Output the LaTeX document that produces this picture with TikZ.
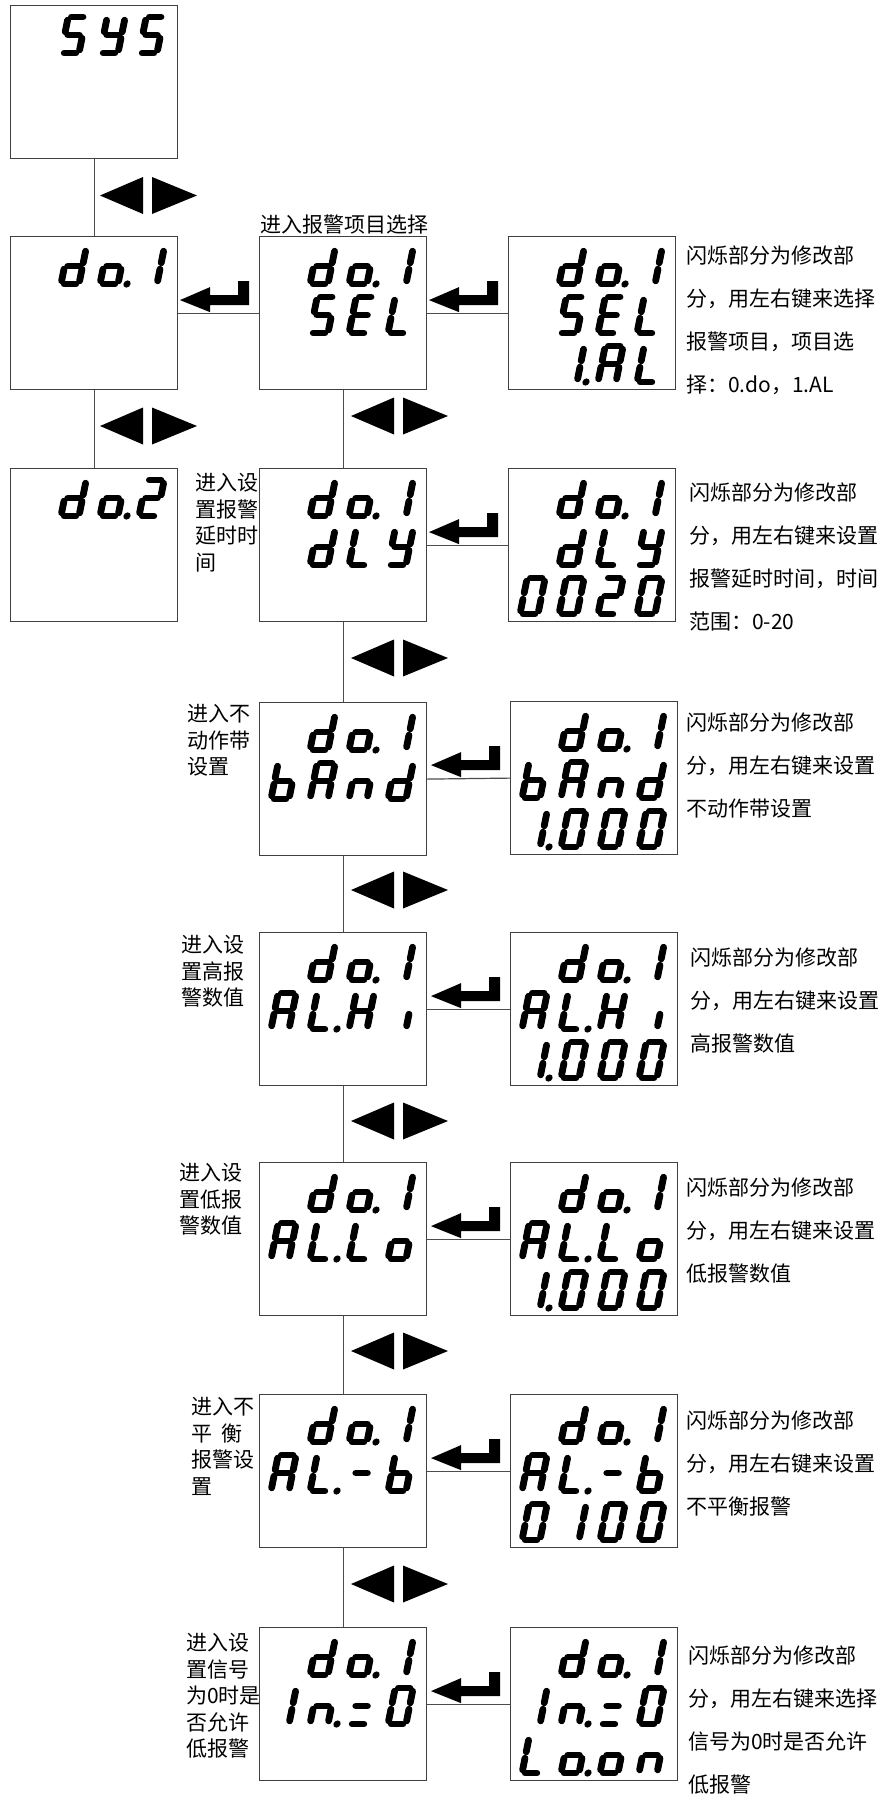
\documentclass[tikz,border=0pt]{standalone}
\usepackage{fontspec}
\setmainfont{Noto Sans CJK SC}
\usetikzlibrary{calc}
\tikzset{
  box/.style={draw=black!75, line width=1.2pt, minimum width=167pt, minimum height=153pt, inner sep=0pt, anchor=north west, fill=white},
  conn/.style={draw=black!70, line width=1.2pt},
  seg/.style={line width=6.8pt, line cap=round},
  lbl/.style={anchor=north west, inner sep=0pt, align=left, font=\fontsize{21}{26.5}\selectfont},
  desc/.style={anchor=north west, inner sep=0pt, align=left, font=\fontsize{21}{43}\selectfont},
}
% seven segment pieces (local frame: baseline y=0, top y=-36, width 18)
\newcommand\SegA{\draw[seg] (3.2,-36) -- (14.8,-36);}
\newcommand\SegB{\draw[seg] (18,-32.8) -- (18,-21.2);}
\newcommand\SegC{\draw[seg] (18,-14.8) -- (18,-3.2);}
\newcommand\SegD{\draw[seg] (3.2,0) -- (14.8,0);}
\newcommand\SegE{\draw[seg] (0,-14.8) -- (0,-3.2);}
\newcommand\SegF{\draw[seg] (0,-32.8) -- (0,-21.2);}
\newcommand\SegG{\draw[seg] (3.2,-18) -- (14.8,-18);}
\newcommand\glDP{\fill (27,0) circle (3.6pt);}
\newcommand\glZero{\SegA\SegB\SegC\SegD\SegE\SegF}
\newcommand\glOne{\SegB\SegC}
\newcommand\glTwo{\SegA\SegB\SegG\SegE\SegD}
\newcommand\glA{\SegA\SegB\SegC\SegE\SegF\SegG}
\newcommand\glB{\SegF\SegE\SegG\SegC\SegD}
\newcommand\glD{\SegB\SegC\SegG\SegE\SegD}
\newcommand\glE{\SegA\SegF\SegG\SegE\SegD}
\newcommand\glH{\SegF\SegB\SegG\SegE\SegC}
\newcommand\glI{\SegC}
\newcommand\glL{\SegF\SegE\SegD}
\newcommand\glN{\SegE\SegG\SegC}
\newcommand\glO{\SegC\SegD\SegE\SegG}
\newcommand\glS{\SegA\SegF\SegG\SegC\SegD}
\newcommand\glY{\SegF\SegB\SegG\SegC\SegD}
\newcommand\glMinus{\SegG}
\newcommand\glEq{\SegG\SegD}
\newcommand\cellat[3]{\begin{scope}[shift={(#1,#2)},xslant=0.2] #3 \end{scope}}
\newcommand\dline[7]{%
  \pgfmathsetmacro\by{#2+48+49*#3}%
  \cellat{#1+12}{\by}{#4}\cellat{#1+51}{\by}{#5}\cellat{#1+90}{\by}{#6}\cellat{#1+129}{\by}{#7}}
\newcommand\enterglyph[1]{\fill ($(#1.west)+(-10,0)$) ++(-69,-13) -- ++(30,-13) -- ++(0,8) -- ++(28,0) -- ++(0,-14) -- ++(11,0) -- ++(0,24) -- ++(-39,0) -- ++(0,7) -- cycle;}
\newcommand\lrglyph[2]{\fill (#1+8,#2) -- (#1+51,#2-18.5) -- (#1+51,#2+18.5) -- cycle;
  \fill (#1+60,#2-18.5) -- (#1+105,#2) -- (#1+60,#2+18.5) -- cycle;}
\begin{document}
\begin{tikzpicture}[x=1pt,y=-1pt]
\useasboundingbox[fill=white] (0,0) rectangle (889,1796);
% boxes
\node[box] (sys) at (10,5) {};
\node[box] (L1) at (10,236) {};
\node[box] (L2) at (10,468) {};
\node[box] (C1) at (259,236) {};
\node[box] (C2) at (259,468) {};
\node[box] (C3) at (259,702) {};
\node[box] (C4) at (259,932) {};
\node[box] (C5) at (259,1162) {};
\node[box] (C6) at (259,1394) {};
\node[box] (C7) at (259,1627) {};
\node[box] (R1) at (508,236) {};
\node[box] (R2) at (508,468) {};
\node[box] (R3) at (510,701) {};
\node[box] (R4) at (510,932) {};
\node[box] (R5) at (510,1162) {};
\node[box] (R6) at (510,1394) {};
\node[box] (R7) at (510,1627) {};
% connectors
\draw[conn] (sys.south) -- (L1.north);
\draw[conn] (L1.south) -- (L2.north);
\draw[conn] (L1.east) -- (C1.west);
\foreach \a/\b in {C1/C2,C2/C3,C3/C4,C4/C5,C5/C6,C6/C7} {\draw[conn] (\a.south) -- (\b.north);}
\foreach \k in {1,...,7} {\draw[conn] (C\k.east) -- (R\k.west);}
% enter symbols
\enterglyph{C1}
\foreach \k in {1,...,7} {\enterglyph{R\k}}
% left/right symbols
\lrglyph{92}{195.5}
\lrglyph{92}{426}
\lrglyph{343}{416}
\lrglyph{343}{658}
\lrglyph{343}{890}
\lrglyph{343}{1121}
\lrglyph{343}{1351}
\lrglyph{343}{1584}
% displays
\dline{10}{5}{0}{}{\glS}{\glY}{\glS}
\dline{10}{236}{0}{}{\glD}{\glO\glDP}{\glOne}
\dline{10}{468}{0}{}{\glD}{\glO\glDP}{\glTwo}
\foreach \t in {236,468,702,932,1162,1394,1627} {\dline{259}{\t}{0}{}{\glD}{\glO\glDP}{\glOne}}
\foreach \t in {236,468} {\dline{508}{\t}{0}{}{\glD}{\glO\glDP}{\glOne}}
\foreach \t in {701,932,1162,1394,1627} {\dline{510}{\t}{0}{}{\glD}{\glO\glDP}{\glOne}}
\dline{259}{236}{1}{}{\glS}{\glE}{\glL}
\dline{508}{236}{1}{}{\glS}{\glE}{\glL}
\dline{508}{236}{2}{}{\glOne\glDP}{\glA}{\glL}
\dline{259}{468}{1}{}{\glD}{\glL}{\glY}
\dline{508}{468}{1}{}{\glD}{\glL}{\glY}
\dline{508}{468}{2}{\glZero}{\glZero}{\glTwo}{\glZero}
\dline{259}{702}{1}{\glB}{\glA}{\glN}{\glD}
\dline{510}{701}{1}{\glB}{\glA}{\glN}{\glD}
\dline{510}{701}{2}{\glOne\glDP}{\glZero}{\glZero}{\glZero}
\dline{259}{932}{1}{\glA}{\glL\glDP}{\glH}{\glI}
\dline{510}{932}{1}{\glA}{\glL\glDP}{\glH}{\glI}
\dline{510}{932}{2}{\glOne\glDP}{\glZero}{\glZero}{\glZero}
\dline{259}{1162}{1}{\glA}{\glL\glDP}{\glL}{\glO}
\dline{510}{1162}{1}{\glA}{\glL\glDP}{\glL}{\glO}
\dline{510}{1162}{2}{\glOne\glDP}{\glZero}{\glZero}{\glZero}
\dline{259}{1394}{1}{\glA}{\glL\glDP}{\glMinus}{\glB}
\dline{510}{1394}{1}{\glA}{\glL\glDP}{\glMinus}{\glB}
\dline{510}{1394}{2}{\glZero}{\glOne}{\glZero}{\glZero}
\dline{259}{1627}{1}{\glOne}{\glN\glDP}{\glEq}{\glZero}
\dline{510}{1627}{1}{\glOne}{\glN\glDP}{\glEq}{\glZero}
\dline{510}{1627}{2}{\glL}{\glO\glDP}{\glO}{\glN}
% left labels
\node[lbl] (t1) at (260,215) {进入报警项目选择};
\node[lbl] (t2) at (195,473.5) {进入设\\置报警\\延时时\\间};
\node[lbl] (t3) at (187,704.5) {进入不\\动作带\\设置};
\node[lbl] (t4) at (181,935.5) {进入设\\置高报\\警数值};
\node[lbl] (t5) at (179,1163.5) {进入设\\置低报\\警数值};
\node[lbl] (t6) at (191,1397.5) {进入不\\平\hspace{9pt}衡\\报警设\\置};
\node[lbl] (t7) at (186,1633.5) {进入设\\置信号\\为0时是\\否允许\\低报警};
% right descriptions
\node[desc] (d1) at (686,245.5) {闪烁部分为修改部\\分，用左右键来选择\\报警项目，项目选\\择：0.do，1.AL};
\node[desc] (d2) at (689,482.5) {闪烁部分为修改部\\分，用左右键来设置\\报警延时时间，时间\\范围：0-20};
\node[desc] (d3) at (686,712.5) {闪烁部分为修改部\\分，用左右键来设置\\不动作带设置};
\node[desc] (d4) at (690,947.5) {闪烁部分为修改部\\分，用左右键来设置\\高报警数值};
\node[desc] (d5) at (686,1177.5) {闪烁部分为修改部\\分，用左右键来设置\\低报警数值};
\node[desc] (d6) at (686,1410.5) {闪烁部分为修改部\\分，用左右键来设置\\不平衡报警};
\node[desc] (d7) at (688,1645.5) {闪烁部分为修改部\\分，用左右键来选择\\信号为0时是否允许\\低报警};
\end{tikzpicture}
\end{document}
